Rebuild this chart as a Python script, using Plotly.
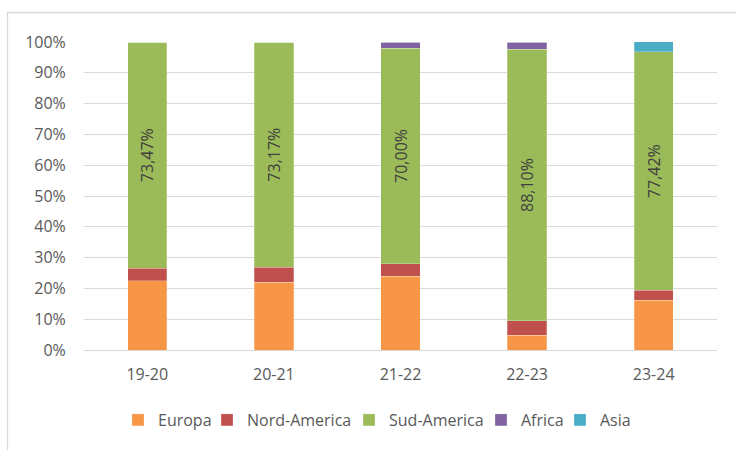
import plotly.graph_objects as go

categories = ["19-20", "20-21", "21-22", "22-23", "23-24"]
europa = [22.45, 21.95, 24.00, 4.76, 16.13]
nord_america = [4.08, 4.88, 4.00, 4.76, 3.23]
sud_america = [73.47, 73.17, 70.00, 88.10, 77.42]
africa = [0.0, 0.0, 2.00, 2.38, 0.0]
asia = [0.0, 0.0, 0.0, 0.0, 3.23]
y_ticks = [0, 10, 20, 30, 40, 50, 60, 70, 80, 90, 100]
y_tick_labels = [f"{v}%" for v in y_ticks]

series = [
    ("Europa", europa, "#F79646", False),
    ("Nord-America", nord_america, "#C0504D", False),
    ("Sud-America", sud_america, "#9BBB59", True),
    ("Africa", africa, "#8064A2", False),
    ("Asia", asia, "#4BACC6", False),
]
# pixel x of each legend swatch centre (layout only)
legend_px = [138, 227, 369, 501, 580]

FONT = "Open Sans, Calibri, Liberation Sans, sans-serif"

W, H = 736, 450
L, R, T, B = 84, 19, 42, 100
pw, ph = W - L - R, H - T - B

def px_x(p):
    return (p - L) / pw

def px_y(p):
    return (H - B - p) / ph

fig = go.Figure()
legends = {}
for i, (name, vals, color, labels) in enumerate(series):
    lg = "legend" if i == 0 else f"legend{i+1}"
    fig.add_trace(go.Bar(
        name=name, x=categories, y=vals, legend=lg,
        marker=dict(color=color, line=dict(color="rgba(255,255,255,0.5)", width=0.5)),
        texttemplate="%{y:.2f}%" if labels else None,
        textposition="inside" if labels else "none",
        insidetextanchor="middle",
        textangle=-90,
        textfont=dict(family=FONT, size=16, color="#404040"),
        hoverinfo="skip",
    ))
    legends[lg] = dict(orientation="h", x=px_x(legend_px[i] - 20), xanchor="left",
                       y=px_y(420), yanchor="middle", itemwidth=30,
                       bgcolor="rgba(0,0,0,0)", borderwidth=0,
                       font=dict(family=FONT, size=16, color="#595959"))

fig.update_layout(
    width=W, height=H,
    margin=dict(l=L, r=R, t=T, b=B),
    barmode="stack",
    bargap=0.69,
    separators=",.",
    paper_bgcolor="white", plot_bgcolor="white",
    font=dict(family=FONT, size=16, color="#595959"),
    showlegend=True,
    xaxis=dict(showgrid=False, ticks="outside", ticklen=10, tickcolor="rgba(0,0,0,0)",
               showline=False, tickfont=dict(size=16, color="#595959")),
    yaxis=dict(range=[0, 100], tickvals=y_ticks, ticktext=y_tick_labels, showgrid=True,
               gridcolor="#D9D9D9", gridwidth=1.3, zeroline=True, zerolinecolor="#D9D9D9",
               zerolinewidth=1.3, ticks="outside", ticklen=14, tickcolor="rgba(0,0,0,0)",
               tickfont=dict(size=16, color="#595959"), showline=False),
    shapes=[
        dict(type="line", xref="paper", yref="paper", x0=px_x(7), x1=px_x(740),
             y0=px_y(12.5), y1=px_y(12.5), line=dict(color="#D9D9D9", width=1.3)),
        dict(type="line", xref="paper", yref="paper", x0=px_x(7.5), x1=px_x(7.5),
             y0=px_y(12), y1=px_y(455), line=dict(color="#D9D9D9", width=1.3)),
    ],
    **legends,
)

fig.write_html("out.html", config={"displayModeBar": False},
               post_script="document.body.style.margin='0px';")
